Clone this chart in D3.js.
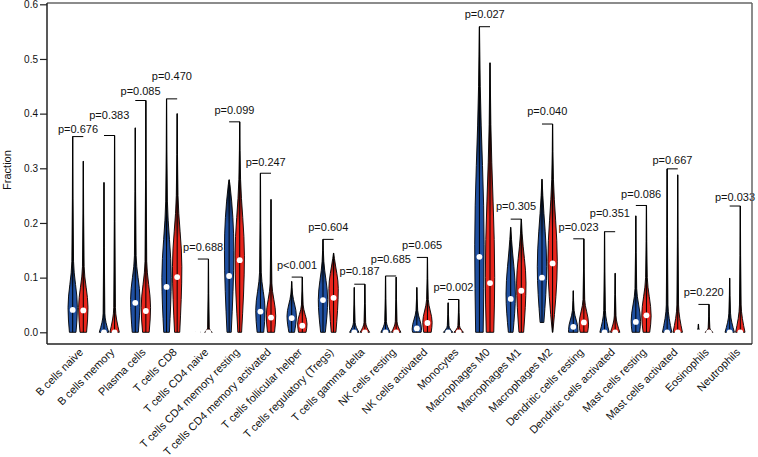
<!DOCTYPE html>
<html>
<head>
<meta charset="utf-8">
<script src="https://cdn.jsdelivr.net/npm/d3@7"></script>
<style>
  body { margin: 0; background: #fff; }
  svg text { font-family: "Liberation Sans", Arial, sans-serif; }
</style>
</head>
<body>
<svg id="chart" width="758" height="457"></svg>
<script>
// ---------------- data ----------------
const categories = ["B cells naive","B cells memory","Plasma cells","T cells CD8","T cells CD4 naive",
  "T cells CD4 memory resting","T cells CD4 memory activated","T cells follicular helper",
  "T cells regulatory (Tregs)","T cells gamma delta","NK cells resting","NK cells activated",
  "Monocytes","Macrophages M0","Macrophages M1","Macrophages M2","Dendritic cells resting",
  "Dendritic cells activated","Mast cells resting","Mast cells activated","Eosinophils","Neutrophils"];
const pLabels = ["p=0.676","p=0.383","p=0.085","p=0.470","p=0.688","p=0.099","p=0.247","p<0.001",
  "p=0.604","p=0.187","p=0.685","p=0.065","p=0.002","p=0.027","p=0.305","p=0.040","p=0.023",
  "p=0.351","p=0.086","p=0.667","p=0.220","p=0.033"];
// value (in Fraction units) at which each p-value label sits
const pLabelY = [0.371,0.398,0.442,0.469,0.156,0.407,0.312,0.122,0.192,0.111,0.134,0.159,0.082,0.582,0.231,0.404,0.192,0.218,0.253,0.315,0.073,0.247];
// group 1 (blue)
const blueMax    = [0.358,0.274,0.374,0.427,0.003,0.279,0.291,0.093,0.170,0.082,0.103,0.082,0.054,0.559,0.192,0.280,0.076,0.184,0.213,0.299,0.015,0.099];
const blueMedian = [0.041,0.000,0.054,0.083,0.000,0.103,0.038,0.026,0.059,0.000,0.000,0.007,0.000,0.138,0.061,0.100,0.010,0.000,0.019,0.000,0.000,0.000];
const blueLow    = [0,0,0,0,0,0,0,0,0,0,0,0,0,0,0,0.018,0,0,0,0,0,0];
const blueBaseW  = [0.7,1,0.65,0.6,0.6,0.45,0.7,0.6,0.5,1,1,0.9,1,0.8,0.5,0.4,1,1,0.8,1,0.3,1];
const blueMode   = [0.045,0,0.06,0.10,0,0.15,0.04,0.03,0.06,0,0,0.006,0,0.16,0.07,0.12,0.005,0,0.02,0,0,0];
const blueNeck   = [0.13,0.035,0.14,0.24,0.001,0.27,0.11,0.07,0.13,0.018,0.02,0.04,0.012,0.45,0.17,0.25,0.04,0.04,0.08,0.05,0.003,0.035];
// group 2 (red)
const redMax     = [0.313,0.360,0.424,0.400,0.134,0.385,0.243,0.101,0.145,0.088,0.101,0.137,0.060,0.493,0.207,0.381,0.171,0.108,0.232,0.288,0.051,0.231];
const redMedian  = [0.040,0.000,0.039,0.101,0.000,0.132,0.027,0.012,0.063,0.000,0.000,0.017,0.000,0.090,0.076,0.126,0.018,0.000,0.031,0.000,0.000,0.000];
const redLow     = [0,0,0,0,0,0,0,0,0,0,0,0,0,0,0,0,0,0,0,0,0,0];
const redBaseW   = [0.7,1,0.7,0.55,0.8,0.4,0.75,0.8,0.5,1,1,0.8,1,0.8,0.5,0.05,0.8,1,0.7,1,0.8,1];
const redMode    = [0.045,0,0.045,0.12,0,0.14,0.03,0.015,0.08,0,0,0.018,0,0.10,0.09,0.13,0.015,0,0.03,0,0,0];
const redNeck    = [0.12,0.045,0.13,0.25,0.008,0.28,0.09,0.05,0.135,0.018,0.02,0.06,0.012,0.38,0.18,0.28,0.06,0.03,0.10,0.05,0.008,0.05];
const yTicks = [0.0,0.1,0.2,0.3,0.4,0.5,0.6];

// ---------------- layout ----------------
const svg = d3.select("#chart");
const L = 47, R = 752, T = 3, B = 344;
const x = d3.scaleLinear().domain([0, 21]).range([78, 735]);
const y = d3.scaleLinear().domain([0, 0.6]).range([332.3, 4.3]);
const halfW = 4.7, offset = 5.3;
const colors = {blue: "#1f4fa0", red: "#e8261d"};

const defs = svg.append("defs");

function violinPoints(lo, w0, mode, neck, max) {
  const pts = [[lo, w0]];
  if (mode > lo) pts.push([mode, 1]);
  if (neck > Math.max(lo, mode)) pts.push([neck, 0.18]);
  if (max > pts[pts.length - 1][0]) pts.push([max, 0.02]);
  return pts;
}

const series = [
  {key: "blue", dx: -offset, max: blueMax, med: blueMedian, low: blueLow, w0: blueBaseW, mode: blueMode, neck: blueNeck},
  {key: "red",  dx:  offset, max: redMax,  med: redMedian,  low: redLow,  w0: redBaseW,  mode: redMode,  neck: redNeck}
];

const gV = svg.append("g");
categories.forEach((c, i) => {
  series.forEach(s => {
    const cx = x(i) + s.dx;
    const pts = violinPoints(s.low[i], s.w0[i], s.mode[i], s.neck[i], s.max[i]);
    const gid = "g_" + s.key + "_" + i;
    const top = Math.max(s.mode[i], s.low[i]);
    const gr = defs.append("linearGradient").attr("id", gid)
      .attr("gradientUnits", "userSpaceOnUse")
      .attr("x1", 0).attr("x2", 0)
      .attr("y1", y(top + 0.4 * (s.neck[i] - top))).attr("y2", y(s.neck[i] + 0.02));
    gr.append("stop").attr("offset", 0).attr("stop-color", colors[s.key]);
    gr.append("stop").attr("offset", 1).attr("stop-color", "#000");
    const area = d3.area()
      .y(d => y(d[0]))
      .x0(d => cx - d[1] * halfW)
      .x1(d => cx + d[1] * halfW)
      .curve(d3.curveMonotoneY);
    gV.append("path").attr("d", area(pts))
      .attr("fill", `url(#${gid})`).attr("stroke", "#000").attr("stroke-width", 0.9);
    gV.append("line").attr("x1", cx).attr("x2", cx)
      .attr("y1", y(s.low[i])).attr("y2", y(s.max[i]))
      .attr("stroke", "#000").attr("stroke-width", 1);
    gV.append("circle").attr("cx", cx).attr("cy", y(s.med[i])).attr("r", 2.9)
      .attr("fill", "#fff");
  });
  // bracket + label
  const top = Math.max(blueMax[i], redMax[i]);
  gV.append("line").attr("x1", x(i) - offset).attr("x2", x(i) + offset)
    .attr("y1", y(top)).attr("y2", y(top)).attr("stroke", "#000").attr("stroke-width", 1);
  gV.append("text").attr("x", x(i)).attr("y", y(pLabelY[i])).attr("dy", "0.35em")
    .attr("text-anchor", "middle").attr("font-size", 11).attr("fill", "#111").text(pLabels[i]);
});

// frame
svg.append("line").attr("x1", L).attr("x2", R).attr("y1", T).attr("y2", T).attr("stroke", "#666").attr("stroke-width", 1.5);
svg.append("line").attr("x1", R).attr("x2", R).attr("y1", T).attr("y2", B).attr("stroke", "#666").attr("stroke-width", 1.5);
svg.append("line").attr("x1", L).attr("x2", R).attr("y1", B).attr("y2", B).attr("stroke", "#222").attr("stroke-width", 1.5);

// y axis
const yAxis = svg.append("g").attr("transform", `translate(${L},0)`)
  .call(d3.axisLeft(y).tickValues(yTicks).tickFormat(d3.format(".1f")).tickSize(7).tickPadding(2).tickSizeOuter(0));
yAxis.select(".domain").remove();
yAxis.append("line").attr("x1", 0).attr("x2", 0).attr("y1", T).attr("y2", B).attr("stroke", "#222").attr("stroke-width", 1.5);
yAxis.selectAll(".tick line").attr("stroke", "#222").attr("stroke-width", 1.2);
yAxis.selectAll(".tick text").attr("font-size", 10).attr("fill", "#111")
  .style("font-family", '"Liberation Sans", Arial, sans-serif');

svg.append("text").attr("transform", "translate(11,170) rotate(-90)")
  .attr("text-anchor", "middle").attr("font-size", 11).attr("fill", "#111").text("Fraction");

// x labels
svg.append("g").selectAll("text").data(categories).join("text")
  .attr("transform", (d, i) => `translate(${x(i)},347) rotate(-45)`)
  .attr("text-anchor", "end").attr("dy", "0.75em")
  .attr("font-size", 11).attr("fill", "#111").text(d => d);
</script>
</body>
</html>
